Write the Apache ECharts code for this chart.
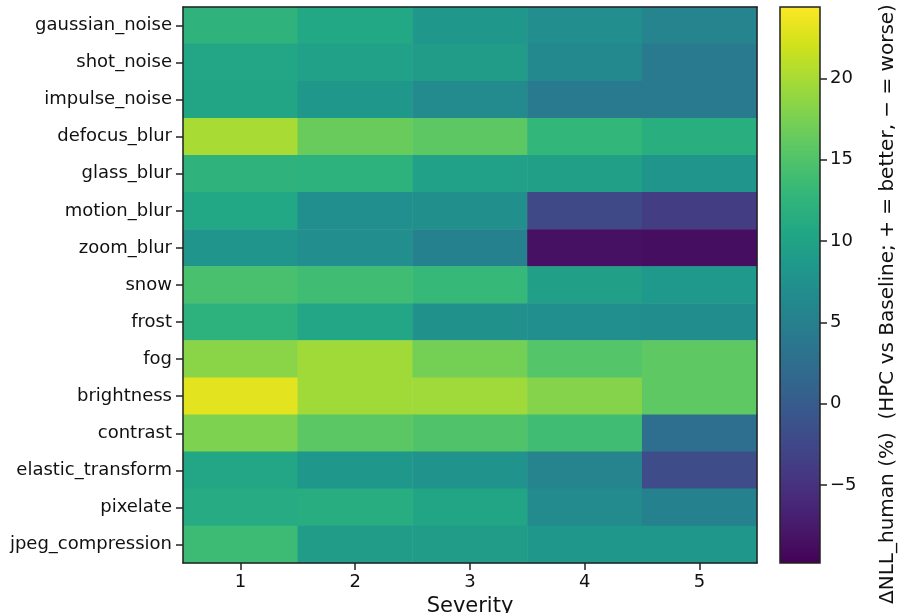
<!DOCTYPE html>
<html>
<head>
<meta charset="utf-8">
<script src="https://cdn.jsdelivr.net/npm/echarts@6/dist/echarts.min.js"></script>
<style>
  html, body { margin: 0; padding: 0; background: #fff; }
  #chart { width: 901px; height: 613px; }
</style>
</head>
<body>
<div id="chart"></div>
<script>
// corruption types (rows, top to bottom) and severities (columns)
const corruptions = [
    'gaussian_noise', 'shot_noise', 'impulse_noise', 'defocus_blur', 'glass_blur',
    'motion_blur', 'zoom_blur', 'snow', 'frost', 'fog',
    'brightness', 'contrast', 'elastic_transform', 'pixelate', 'jpeg_compression'
]
const severities = ['1', '2', '3', '4', '5']

// ΔNLL_human (%) per corruption, severity 1..5
const gaussianNoise = [12.3, 10.7, 8.5, 7.0, 5.6]
const shotNoise = [10.5, 9.7, 9.0, 6.3, 4.2]
const impulseNoise = [10.3, 8.5, 6.4, 4.2, 4.1]
const defocusBlur = [20.0, 16.5, 15.8, 12.8, 11.6]
const glassBlur = [12.3, 12.2, 9.7, 9.6, 8.0]
const motionBlur = [10.7, 7.1, 7.3, -2.3, -3.6]
const zoomBlur = [8.0, 7.0, 5.2, -8.4, -8.6]
const snow = [14.5, 13.8, 13.1, 9.6, 8.6]
const frost = [12.2, 10.4, 7.5, 7.2, 6.9]
const fog = [18.4, 19.6, 17.2, 15.3, 15.9]
const brightness = [23.0, 19.6, 19.5, 18.1, 15.9]
const contrast = [17.7, 15.7, 15.0, 13.8, 2.5]
const elasticTransform = [10.5, 8.5, 7.9, 5.6, -2.0]
const pixelate = [11.2, 11.5, 10.3, 6.4, 5.1]
const jpegCompression = [13.6, 9.0, 9.0, 8.5, 8.5]

const rows = [
    gaussianNoise, shotNoise, impulseNoise, defocusBlur, glassBlur,
    motionBlur, zoomBlur, snow, frost, fog,
    brightness, contrast, elasticTransform, pixelate, jpegCompression
]

// colour scale limits and colorbar ticks
const vMin = -9.8
const vMax = 24.4
const cbarTicks = [-5, 0, 5, 10, 15, 20]
const cbarTitle = 'ΔNLL_human (%)  (HPC vs Baseline; + = better, − = worse)'

const viridis = [
    '#440154', '#481a6c', '#472f7d', '#414487', '#39568c', '#31688e',
    '#2a788e', '#23888e', '#1f988b', '#22a884', '#35b779', '#54c568',
    '#7ad151', '#a5db36', '#d2e21b', '#fde725'
]

const cells = []
rows.forEach((vals, r) => {
    vals.forEach((v, c) => {
        cells.push([c, r, v])
    })
})

const chart = echarts.init(document.getElementById('chart'))
const font = 'DejaVu Sans'
const frame = '#222'
const tickFont = { fontSize: 18, color: '#111', fontFamily: font }

chart.setOption({
    animation: false,
    textStyle: { fontFamily: font },
    grid: [
        { left: 183, right: 144, top: 7, bottom: 50, outerBoundsMode: 'none' },
        { left: 780, width: 40, top: 7, bottom: 50, outerBoundsMode: 'none' }
    ],
    visualMap: {
        show: false,
        seriesIndex: 0,
        min: vMin,
        max: vMax,
        dimension: 2,
        inRange: { color: viridis }
    },
    graphic: [
        {
            // colorbar label, rotated to read bottom-to-top
            type: 'text',
            x: 888,
            y: 304,
            rotation: Math.PI / 2,
            style: {
                text: cbarTitle,
                fontSize: 20,
                fontFamily: font,
                fill: '#111',
                align: 'center',
                verticalAlign: 'middle'
            }
        }
    ],
    xAxis: [
        {
            type: 'category',
            gridIndex: 0,
            z: 5,
            data: severities,
            name: 'Severity',
            nameLocation: 'middle',
            nameGap: 31,
            nameTextStyle: { fontSize: 21, color: '#111', fontFamily: font },
            axisLine: { lineStyle: { color: frame, width: 1.5 } },
            axisTick: { show: true, alignWithLabel: true, length: 7, lineStyle: { color: frame, width: 1.5 } },
            axisLabel: { ...tickFont, margin: 10 },
            splitLine: { show: false }
        },
        {
            type: 'category',
            gridIndex: 0,
            z: 5,
            position: 'top',
            data: severities,
            axisLine: { lineStyle: { color: frame, width: 1.5 } },
            axisTick: { show: false },
            axisLabel: { show: false }
        },
        {
            type: 'category',
            gridIndex: 1,
            data: [''],
            axisLine: { show: false },
            axisTick: { show: false },
            axisLabel: { show: false }
        }
    ],
    yAxis: [
        {
            type: 'category',
            gridIndex: 0,
            z: 5,
            data: corruptions,
            inverse: true,
            axisLine: { lineStyle: { color: frame, width: 1.5 } },
            axisTick: { show: true, alignWithLabel: true, length: 7, lineStyle: { color: frame, width: 1.5 } },
            axisLabel: { ...tickFont, margin: 11 },
            splitLine: { show: false }
        },
        {
            type: 'category',
            gridIndex: 0,
            z: 5,
            position: 'right',
            data: corruptions,
            inverse: true,
            axisLine: { lineStyle: { color: frame, width: 1.5 } },
            axisTick: { show: false },
            axisLabel: { show: false }
        },
        {
            type: 'value',
            gridIndex: 1,
            z: 5,
            position: 'right',
            min: vMin,
            max: vMax,
            axisLine: { show: false },
            axisTick: {
                show: true,
                length: 7,
                customValues: cbarTicks,
                lineStyle: { color: frame, width: 1.5 }
            },
            axisLabel: {
                ...tickFont,
                margin: 10,
                customValues: cbarTicks,
                formatter: v => (v < 0 ? '−' + Math.abs(v) : String(v))
            },
            splitLine: { show: false }
        }
    ],
    series: [
        {
            type: 'heatmap',
            xAxisIndex: 0,
            yAxisIndex: 0,
            z: 1,
            data: cells,
            itemStyle: { borderWidth: 0 },
            emphasis: { disabled: true }
        },
        {
            // colorbar gradient, spanning the value axis from vMin to vMax
            type: 'custom',
            xAxisIndex: 2,
            yAxisIndex: 2,
            z: 1,
            data: [[0, vMin, vMax]],
            renderItem(params, api) {
                const bottom = api.coord([0, api.value(1)])
                const top = api.coord([0, api.value(2)])
                const w = api.size([1, 0])[0]
                return {
                    type: 'rect',
                    shape: { x: bottom[0] - w / 2, y: top[1], width: w, height: bottom[1] - top[1] },
                    style: {
                        fill: new echarts.graphic.LinearGradient(0, 1, 0, 0,
                            viridis.map((c, i) => ({ offset: i / (viridis.length - 1), color: c }))),
                        stroke: frame,
                        lineWidth: 1.5
                    }
                }
            }
        }
    ]
})
</script>
</body>
</html>
